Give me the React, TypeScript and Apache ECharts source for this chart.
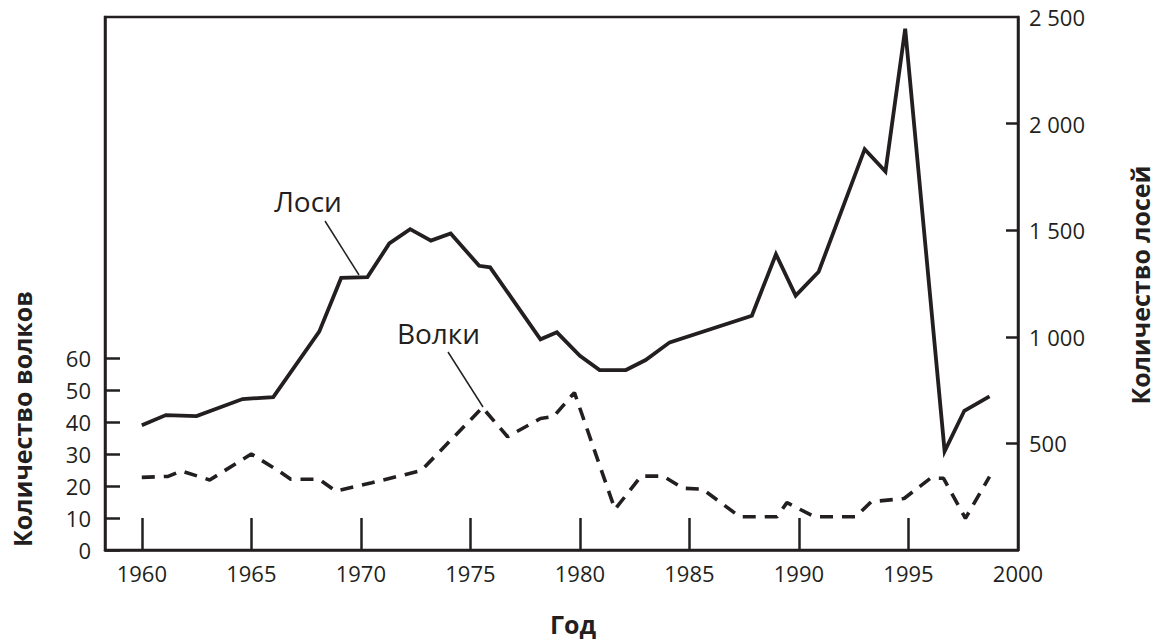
import React, { useEffect, useRef } from "react";
import * as echarts from "echarts";

// Moose (right axis) — year, count
const mooseYears = [1960, 1961.1, 1962.5, 1964.6, 1966.0, 1968.1, 1969.1, 1970.3, 1971.3, 1972.25, 1973.2, 1974.1, 1975.4, 1975.9, 1978.2, 1978.95, 1980.0, 1980.9, 1982.1, 1983.0, 1984.1, 1987.85, 1988.95, 1989.85, 1990.9, 1993.0, 1993.95, 1994.85, 1996.65, 1997.55, 1998.7];
const mooseCounts = [585, 633, 628, 708, 717, 1024, 1276, 1280, 1438, 1505, 1451, 1485, 1333, 1326, 988, 1021, 911, 844, 844, 891, 974, 1099, 1387, 1193, 1305, 1880, 1775, 2445, 463, 653, 721];

// Wolves (left axis) — year, count
const wolfYears = [1960, 1961.2, 1961.8, 1963.1, 1965.0, 1966.3, 1966.8, 1968.1, 1968.85, 1970.5, 1972.75, 1975.55, 1976.7, 1978.2, 1978.8, 1979.75, 1981.6, 1982.8, 1983.8, 1984.7, 1985.6, 1987.3, 1989.0, 1989.45, 1990.7, 1992.6, 1993.3, 1994.8, 1996.0, 1996.6, 1997.6, 1998.7];
const wolfCounts = [22.7, 23, 24.7, 21.9, 30, 24.5, 22.1, 22.1, 18.4, 21, 24.8, 44.5, 35.4, 41.1, 41.7, 49.2, 12.7, 23.1, 23.1, 19.3, 19, 10.4, 10.4, 14.8, 10.4, 10.4, 15.1, 16.1, 22.4, 22.4, 9.9, 22.9];

const xTickYears = [1960, 1965, 1970, 1975, 1980, 1985, 1990, 1995];
const xLabelYears = [1960, 1965, 1970, 1975, 1980, 1985, 1990, 1995, 2000];
const wolfTicks = [0, 10, 20, 30, 40, 50, 60];
const mooseTicks = [500, 1000, 1500, 2000];
const mooseLabels = [500, 1000, 1500, 2000, 2500];

const INK = "#231f20";
const FONT = "'Open Sans', 'Noto Sans', sans-serif";

function fmtSpace(v: number): string {
  const s = String(Math.round(v));
  return s.length > 3 ? s.slice(0, s.length - 3) + " " + s.slice(s.length - 3) : s;
}

export default function App() {
  const ref = useRef<HTMLDivElement>(null);
  useEffect(() => {
    if (!ref.current) return;
    const chart = echarts.init(ref.current, undefined, { renderer: "svg" });
    const axisLine = { show: true, lineStyle: { color: INK, width: 2.5 } };
    const labelBase = { color: INK, fontSize: 22, fontFamily: FONT };
    const option: any = {
      animation: false,
      backgroundColor: "#ffffff",
      grid: {
        left: 105,
        right: 138,
        top: 17,
        bottom: 91,
        show: true,
        borderColor: INK,
        borderWidth: 2.5,
        backgroundColor: "transparent",
      },
      xAxis: {
        type: "value",
        min: 1958.32,
        max: 2000,
        axisLine,
        axisTick: {
          show: true,
          inside: true,
          length: 32,
          lineStyle: { color: INK, width: 2.5 },
          customValues: xTickYears,
        },
        axisLabel: {
          ...labelBase,
          margin: 12,
          customValues: xLabelYears,
          formatter: (v: number) => String(v),
        },
        splitLine: { show: false },
      },
      yAxis: [
        {
          type: "value",
          position: "left",
          min: 0,
          max: 166.5625,
          axisLine,
          axisTick: {
            show: true,
            inside: true,
            length: 15,
            lineStyle: { color: INK, width: 2.5 },
            customValues: wolfTicks,
          },
          axisLabel: {
            ...labelBase,
            margin: 14,
            customValues: wolfTicks,
            formatter: (v: number) => String(v),
          },
          splitLine: { show: false },
        },
        {
          type: "value",
          position: "right",
          min: 0,
          max: 2500,
          axisLine,
          axisTick: {
            show: true,
            inside: true,
            length: 12,
            lineStyle: { color: INK, width: 2.5 },
            customValues: mooseTicks,
          },
          axisLabel: {
            ...labelBase,
            margin: 11,
            customValues: mooseLabels,
            formatter: (v: number) => fmtSpace(v),
          },
          splitLine: { show: false },
        },
      ],
      series: [
        {
          name: "Лоси",
          type: "line",
          yAxisIndex: 1,
          data: mooseYears.map((y, i) => [y, mooseCounts[i]]),
          showSymbol: false,
          lineStyle: { color: INK, width: 3.8, join: "miter", miterLimit: 10 },
          z: 3,
        },
        {
          name: "Волки",
          type: "line",
          yAxisIndex: 0,
          data: wolfYears.map((y, i) => [y, wolfCounts[i]]),
          showSymbol: false,
          lineStyle: { color: INK, width: 3.6, type: [13, 9] },
          z: 3,
        },
      ],
      graphic: [
        {
          type: "text",
          x: 308,
          y: 201,
          style: { text: "Лоси", font: `28px ${FONT}`, fill: INK, textAlign: "center", textVerticalAlign: "middle" },
        },
        {
          type: "text",
          x: 438.5,
          y: 332.5,
          style: { text: "Волки", font: `28px ${FONT}`, fill: INK, textAlign: "center", textVerticalAlign: "middle" },
        },
        {
          type: "line",
          shape: { x1: 325, y1: 221, x2: 359, y2: 275 },
          style: { stroke: INK, lineWidth: 1.5 },
        },
        {
          type: "line",
          shape: { x1: 448, y1: 352, x2: 483, y2: 407 },
          style: { stroke: INK, lineWidth: 1.5 },
        },
        {
          type: "text",
          x: 22,
          y: 419,
          rotation: Math.PI / 2,
          style: { text: "Количество волков", font: `bold 25px ${FONT}`, fill: INK, textAlign: "center", textVerticalAlign: "middle" },
        },
        {
          type: "text",
          x: 1140,
          y: 285,
          rotation: Math.PI / 2,
          style: { text: "Количество лосей", font: `bold 25px ${FONT}`, fill: INK, textAlign: "center", textVerticalAlign: "middle" },
        },
        {
          type: "text",
          x: 573,
          y: 624,
          style: { text: "Год", font: `bold 25px ${FONT}`, fill: INK, textAlign: "center", textVerticalAlign: "middle" },
        },
      ],
    };
    chart.setOption(option);
    return () => chart.dispose();
  }, []);
  return (
    <div
      ref={ref}
      style={{ position: "absolute", left: 0, top: 0, width: 1156, height: 641, background: "#fff" }}
    />
  );
}
